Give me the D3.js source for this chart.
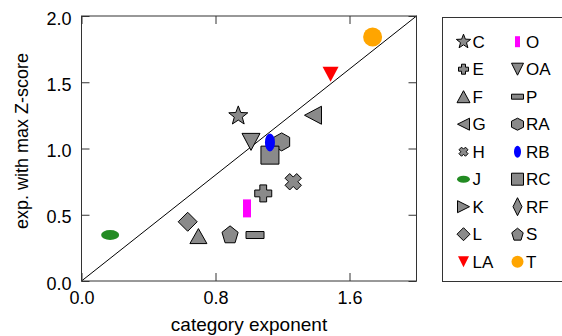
<!DOCTYPE html>
<html><head><meta charset="utf-8">
<script src="https://cdn.jsdelivr.net/npm/d3@7"></script>
<style>body{margin:0;background:#fff}svg{display:block;font-family:"Liberation Sans",Arial,sans-serif}</style>
</head><body>
<svg id="chart" width="562" height="336"></svg>
<script>
// ---- data ----
const categories = ["C","E","F","G","H","J","K","L","LA","O","OA","P","RA","RB","RC","RF","S","T"];
const categoryExponent = [0.936,1.085,0.698,1.382,1.264,0.171,null,0.634,1.487,0.988,1.012,1.036,1.195,1.125,1.125,null,0.887,1.738];
const maxZExponent     = [1.246,0.661,0.339,1.251,0.749,0.347,null,0.447,1.560,0.548,1.050,0.347,1.050,1.046,0.950,null,0.352,1.842];
const drawOrder = ["C","E","F","G","H","J","L","LA","O","OA","P","RA","RC","RB","S","T"];
const xTicks = [0.0, 0.8, 1.6];
const yTicks = [0.0, 0.5, 1.0, 1.5, 2.0];
const xTitle = "category exponent";
const yTitle = "exp. with max Z-score";

// ---- marker styles ----
const GRAY = "#8a8a8a";
const styles = {
  C:  {shape:"star",    fill:GRAY, stroke:true,  p:[20,20], l:[15,15]},
  E:  {shape:"plus",    fill:GRAY, stroke:true,  p:[17,17], l:[10,10]},
  F:  {shape:"triUp",   fill:GRAY, stroke:true,  p:[17,15], l:[13,12]},
  G:  {shape:"triLeft", fill:GRAY, stroke:true,  p:[17,18], l:[12,12]},
  H:  {shape:"xcross",  fill:GRAY, stroke:true,  p:[18,18], l:[10,10]},
  J:  {shape:"ellipse", fill:"#228b22", stroke:false, p:[18,10], l:[13,7]},
  K:  {shape:"triRight",fill:GRAY, stroke:true,  p:[17,18], l:[12,12]},
  L:  {shape:"diamond", fill:GRAY, stroke:true,  p:[19,19], l:[13,13]},
  LA: {shape:"triDown", fill:"#ff0000", stroke:false, p:[16,15], l:[11,11]},
  O:  {shape:"rect",    fill:"#ff00ff", stroke:false, p:[8,18], l:[5,11]},
  OA: {shape:"triDown", fill:GRAY, stroke:true,  p:[18,17], l:[12,12]},
  P:  {shape:"rect",    fill:GRAY, stroke:true,  p:[18,7], l:[12,5]},
  RA: {shape:"hexagon", fill:GRAY, stroke:true,  p:[16,18], l:[12,12]},
  RB: {shape:"ellipse", fill:"#0000ff", stroke:false, p:[10,18], l:[7,12]},
  RC: {shape:"rect",    fill:GRAY, stroke:true,  p:[18,18], l:[12,12]},
  RF: {shape:"diamond", fill:GRAY, stroke:true,  p:[9,18], l:[9,18]},
  S:  {shape:"pentagon",fill:GRAY, stroke:true,  p:[17,17], l:[12,12]},
  T:  {shape:"circle",  fill:"#ffa500", stroke:false, p:[19,19], l:[12,12]}
};

function poly(pts){ return "M" + pts.map(p => p[0].toFixed(2)+","+p[1].toFixed(2)).join("L") + "Z"; }
function shapePath(shape, w, h){
  const a = w/2, b = h/2;
  switch(shape){
    case "star": {
      const pts=[]; for(let i=0;i<10;i++){const r=i%2?a*0.42:a; const t=-Math.PI/2+i*Math.PI/5; pts.push([r*Math.cos(t), r*Math.sin(t)*(b/a)]);} return poly(pts);
    }
    case "plus": { const t=w*0.2; return poly([[-t,-b],[t,-b],[t,-t],[a,-t],[a,t],[t,t],[t,b],[-t,b],[-t,t],[-a,t],[-a,-t],[-t,-t]]); }
    case "xcross": {
      const t=w*0.2, r=a; const base=[[-t,-r],[t,-r],[t,-t],[r,-t],[r,t],[t,t],[t,r],[-t,r],[-t,t],[-r,t],[-r,-t],[-t,-t]];
      const c=Math.SQRT1_2; return poly(base.map(p=>[(p[0]-p[1])*c*0.92,(p[0]+p[1])*c*0.92]));
    }
    case "triUp": return poly([[0,-b],[a,b],[-a,b]]);
    case "triDown": return poly([[-a,-b],[a,-b],[0,b]]);
    case "triLeft": return poly([[-a,0],[a,-b],[a,b]]);
    case "triRight": return poly([[a,0],[-a,-b],[-a,b]]);
    case "diamond": return poly([[0,-b],[a,0],[0,b],[-a,0]]);
    case "rect": return poly([[-a,-b],[a,-b],[a,b],[-a,b]]);
    case "hexagon": { const pts=[]; for(let i=0;i<6;i++){const t=-Math.PI/2+i*Math.PI/3; pts.push([a*Math.cos(t)/Math.cos(Math.PI/6), b*Math.sin(t)]);} return poly(pts); }
    case "pentagon": { const pts=[]; for(let i=0;i<5;i++){const t=-Math.PI/2+i*2*Math.PI/5; pts.push([a*Math.cos(t), b*Math.sin(t)*1.1+b*0.1]);} return poly(pts); }
    case "ellipse": case "circle":
      return `M${-a},0A${a},${b} 0 1,0 ${a},0A${a},${b} 0 1,0 ${-a},0Z`;
  }
}

// ---- layout ----
const svg = d3.select("#chart");
const M = {left:81.5, top:16, right:416.5, bottom:281};
const x = d3.scaleLinear().domain([0,2]).range([M.left, M.right]);
const y = d3.scaleLinear().domain([0,2]).range([M.bottom, M.top]);
const FRAME = "#333";

// diagonal reference line
svg.append("line").attr("x1",x(0)).attr("y1",y(0)).attr("x2",x(2)).attr("y2",y(2))
  .attr("stroke","#000").attr("stroke-width",1);

// axes with inward ticks
const tl = 8;
const gB = svg.append("g").attr("transform",`translate(0,${M.bottom})`)
  .call(d3.axisBottom(x).tickValues(xTicks).tickSizeInner(-tl).tickSizeOuter(0).tickFormat(d3.format(".1f")).tickPadding(10));
const gT = svg.append("g").attr("transform",`translate(0,${M.top})`)
  .call(d3.axisTop(x).tickValues(xTicks).tickSizeInner(-tl).tickSizeOuter(0).tickFormat(""));
const gL = svg.append("g").attr("transform",`translate(${M.left},0)`)
  .call(d3.axisLeft(y).tickValues(yTicks).tickSizeInner(-tl).tickSizeOuter(0).tickFormat(d3.format(".1f")).tickPadding(10));
const gR = svg.append("g").attr("transform",`translate(${M.right},0)`)
  .call(d3.axisRight(y).tickValues(yTicks).tickSizeInner(-tl).tickSizeOuter(0).tickFormat(""));
[gB,gT,gL,gR].forEach(g=>{ g.select(".domain").remove(); g.selectAll("line").attr("stroke",FRAME);});
gB.selectAll("text").attr("font-size",18).attr("fill","#000").attr("font-family","Liberation Sans, Arial, sans-serif");
gL.selectAll("text").attr("font-size",18).attr("fill","#000").attr("font-family","Liberation Sans, Arial, sans-serif").attr("dy","0.45em");

svg.append("rect").attr("x",M.left).attr("y",M.top).attr("width",M.right-M.left).attr("height",M.bottom-M.top)
  .attr("fill","none").attr("stroke",FRAME).attr("stroke-width",1);

// titles
svg.append("text").attr("x",(M.left+M.right)/2).attr("y",331).attr("text-anchor","middle")
  .attr("font-size",19).text(xTitle);
svg.append("text").attr("transform",`translate(28,141) rotate(-90)`).attr("text-anchor","middle")
  .attr("font-size",18).text(yTitle);

// points
const pts = drawOrder.map(c=>{const i=categories.indexOf(c); return {c, xv:categoryExponent[i], yv:maxZExponent[i]};}).filter(d=>d.xv!=null);
svg.append("g").selectAll("path").data(pts).join("path")
  .attr("transform",d=>`translate(${x(d.xv)},${y(d.yv)})`)
  .attr("d",d=>{const s=styles[d.c]; return shapePath(s.shape,s.p[0],s.p[1]);})
  .attr("fill",d=>styles[d.c].fill)
  .attr("stroke",d=>styles[d.c].stroke?"#000":"none").attr("stroke-width",1);

// legend
const L = {x:442.5, y:17.5, w:130, h:264};
svg.append("rect").attr("x",L.x).attr("y",L.y).attr("width",L.w).attr("height",L.h)
  .attr("fill","none").attr("stroke",FRAME).attr("stroke-width",1);
const perCol = 9, rowH = 27.5, row0 = 41.7;
const colMarkX = [463.5, 517.5], colTextX = [472.5, 526];
const lg = svg.append("g").selectAll("g").data(categories).join("g")
  .attr("transform",(d,i)=>`translate(0,${row0 + (i%perCol)*rowH})`);
lg.append("path")
  .attr("transform",(d,i)=>`translate(${colMarkX[Math.floor(i/perCol)]},0)`)
  .attr("d",d=>{const s=styles[d]; return shapePath(s.shape,s.l[0],s.l[1]);})
  .attr("fill",d=>styles[d].fill)
  .attr("stroke",d=>styles[d].stroke?"#000":"none").attr("stroke-width",1);
lg.append("text").attr("x",(d,i)=>colTextX[Math.floor(i/perCol)]).attr("dy","0.36em")
  .attr("font-size",17).text(d=>d);
</script>
</body></html>
